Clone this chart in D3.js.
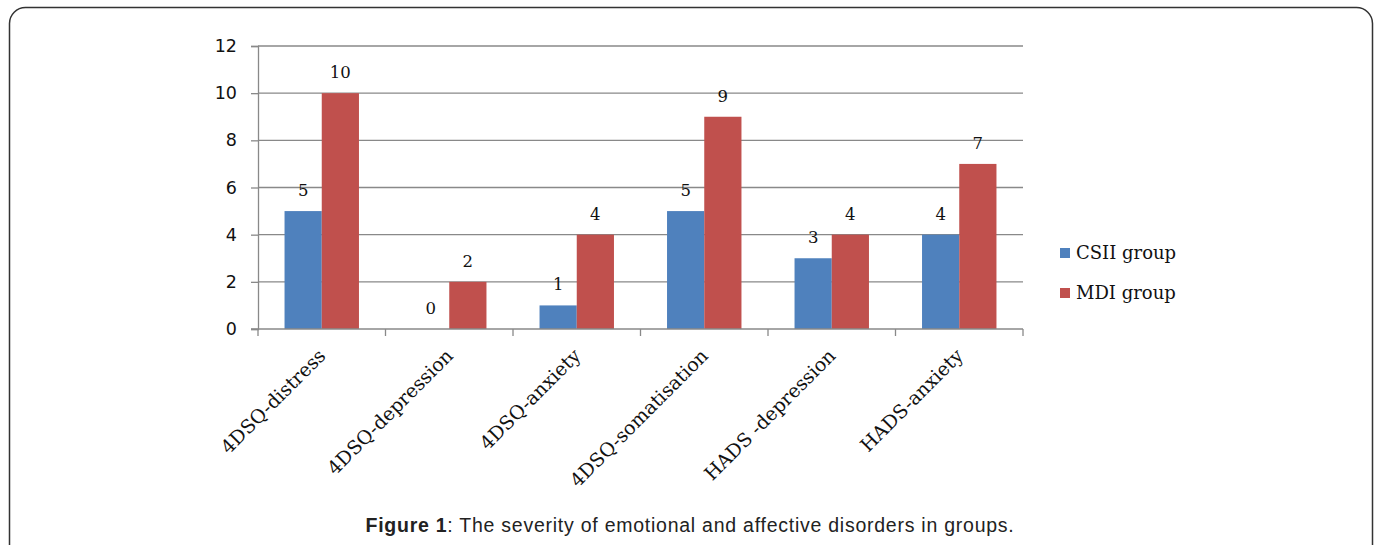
<!DOCTYPE html>
<html><head><meta charset="utf-8">
<script src="https://cdn.jsdelivr.net/npm/d3@7"></script>
<style>html,body{margin:0;padding:0;background:#fff;overflow:hidden}</style>
</head><body>
<svg id="c" width="1380" height="545"></svg>
<script>
const categories = ["4DSQ-distress","4DSQ-depression","4DSQ-anxiety","4DSQ-somatisation","HADS -depression","HADS-anxiety"];
const seriesNames = ["CSII group","MDI group"];
const csii = [5,0,1,5,3,4];
const mdi = [10,2,4,9,4,7];
const yTicks = [0,2,4,6,8,10,12];
const colors = ["#4F81BD","#C0504D"];

const svg = d3.select("#c");
// frame
svg.append("rect").attr("x",9.5).attr("y",7.5).attr("width",1363).attr("height",560)
  .attr("rx",16).attr("fill","none").attr("stroke","#333").attr("stroke-width",1.5);

const L=258, R=1023, T=46, B=329;
const x = d3.scaleBand().domain(categories).range([L,R]).paddingInner(0).paddingOuter(0);
const x1 = d3.scaleBand().domain(seriesNames).range([0,x.bandwidth()]).paddingInner(0).paddingOuter(0.713);
const y = d3.scaleLinear().domain([0,12]).range([B,T]);

const grid = "#898989";
svg.append("g").selectAll("line").data(yTicks.filter(d=>d>0)).join("line")
  .attr("x1",L).attr("x2",R).attr("y1",d=>y(d)).attr("y2",d=>y(d))
  .attr("stroke",grid).attr("stroke-width",1.3);

const ya = svg.append("g").attr("transform",`translate(${L},0)`)
  .call(d3.axisLeft(y).tickValues(yTicks).tickSize(7).tickPadding(14));
ya.select(".domain").attr("stroke",grid).attr("stroke-width",1.3);
ya.selectAll(".tick line").attr("stroke",grid).attr("stroke-width",1.3);
ya.selectAll("text").attr("font-family","'DejaVu Sans',Verdana,sans-serif").attr("font-size",17.5).attr("fill","#111");

const data = categories.map((c,i)=>({c, vals:[csii[i],mdi[i]]}));
const g = svg.append("g").selectAll("g").data(data).join("g")
  .attr("transform",d=>`translate(${x(d.c)},0)`);
g.selectAll("rect").data(d=>d.vals.map((v,j)=>({v,s:seriesNames[j],j}))).join("rect")
  .attr("x",d=>x1(d.s)).attr("width",x1.bandwidth())
  .attr("y",d=>y(d.v)).attr("height",d=>B-y(d.v)).attr("fill",d=>colors[d.j]);
g.selectAll("text").data(d=>d.vals.map((v,j)=>({v,s:seriesNames[j],j}))).join("text")
  .attr("x",d=>x1(d.s)+x1.bandwidth()/2).attr("y",d=>y(d.v)-15)
  .attr("text-anchor","middle").attr("font-family","'DejaVu Serif',Cambria,serif")
  .attr("font-size",16.5).attr("fill","#111").text(d=>d.v);

const xa = svg.append("g").attr("transform",`translate(0,${B})`);
xa.append("line").attr("x1",L-7).attr("x2",R).attr("stroke",grid).attr("stroke-width",1.3);
const bounds = categories.map(c=>x(c)).concat([R]);
xa.selectAll("line.t").data(bounds).join("line").attr("class","t")
  .attr("x1",d=>d).attr("x2",d=>d).attr("y1",0).attr("y2",7).attr("stroke",grid).attr("stroke-width",1.3);
xa.selectAll("text").data(categories).join("text")
  .attr("transform",d=>`translate(${x(d)+x.bandwidth()/2+5},${28}) rotate(-45)`)
  .attr("text-anchor","end").attr("font-family","'DejaVu Serif',Cambria,serif")
  .attr("font-size",19).attr("fill","#111").text(d=>d);

const lg = svg.append("g").selectAll("g").data(seriesNames).join("g")
  .attr("transform",(d,i)=>`translate(1060,${253+i*40})`);
lg.append("rect").attr("x",0).attr("y",-5).attr("width",10).attr("height",10).attr("fill",(d,i)=>colors[i]);
lg.append("text").attr("x",16).attr("y",6).attr("font-family","'DejaVu Serif',Cambria,serif")
  .attr("font-size",18).attr("fill","#111").text(d=>d);

const cap = svg.append("text").attr("x",690).attr("y",532).attr("text-anchor","middle")
  .attr("font-family","'Liberation Sans',Arial,sans-serif").attr("font-size",19.5)
  .attr("letter-spacing",0.75).attr("fill","#222");
cap.append("tspan").attr("font-weight","bold").text("Figure 1");
cap.append("tspan").text(": The severity of emotional and affective disorders in groups.");
</script>
</body></html>
